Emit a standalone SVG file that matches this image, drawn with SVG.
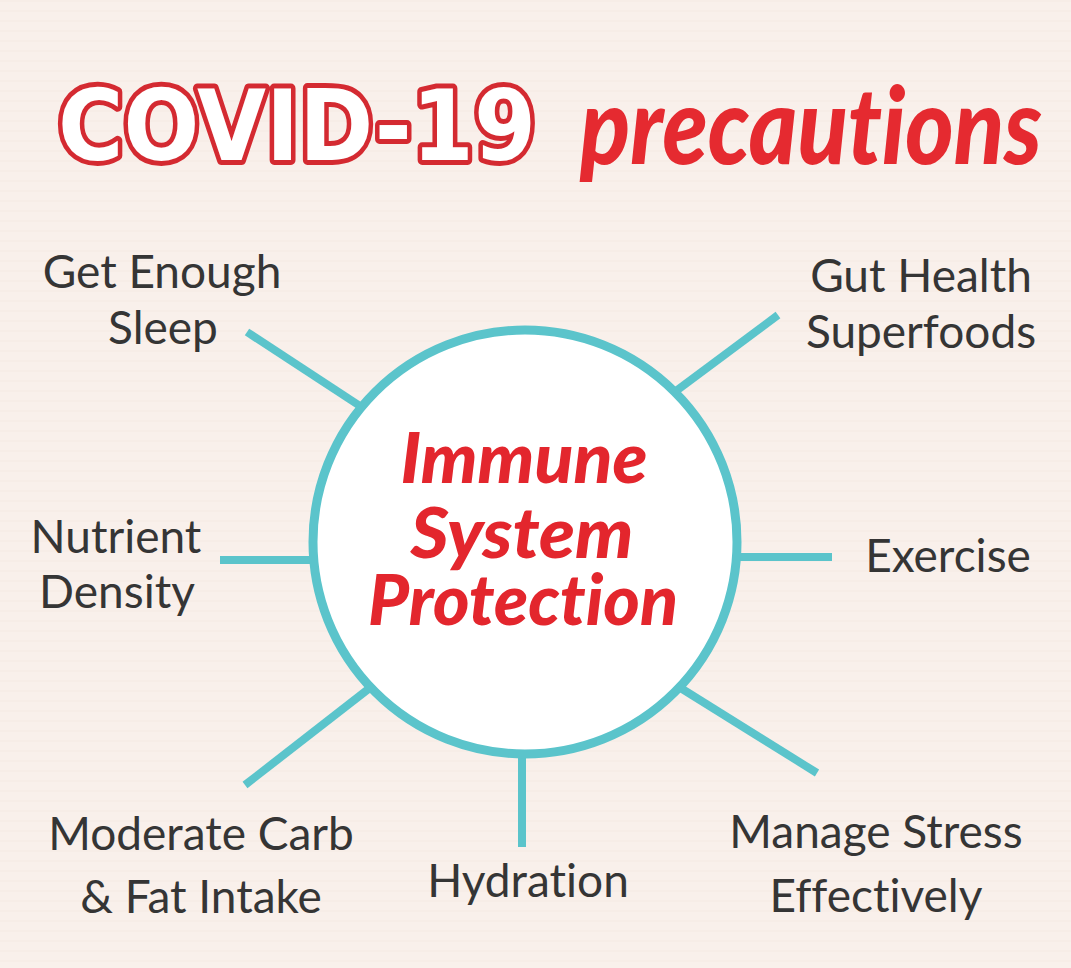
<svg xmlns="http://www.w3.org/2000/svg" width="1071" height="968" viewBox="0 0 1071 968">
<defs>
<pattern id="stripes" width="10" height="10" patternUnits="userSpaceOnUse">
<rect width="10" height="10" fill="#f9f0eb"/>
<rect y="0" width="10" height="2" fill="#f7ede7"/>
</pattern>
</defs>
<style>
text{font-variant-ligatures:none}
.lbl{font-family:Lato,"Liberation Sans",sans-serif;font-size:46px;fill:#353535;text-anchor:middle}
.hub{font-family:Lato,"Liberation Sans",sans-serif;font-size:70px;font-weight:900;font-style:italic;fill:#e3262d;text-anchor:middle}
.spoke{stroke:#5bc4cb;stroke-width:8;fill:none}
</style>
<rect width="1071" height="968" fill="url(#stripes)"/>
<g id="title">
<text x="58" y="160" textLength="478" lengthAdjust="spacingAndGlyphs" font-family="'DejaVu Sans',sans-serif" font-weight="bold" font-size="98" fill="#ffffff" stroke="#d42a31" stroke-width="10" stroke-linejoin="round" paint-order="stroke fill">COVID-19</text>
<text x="1042" y="164" text-anchor="end" textLength="462" lengthAdjust="spacingAndGlyphs" font-family="Lato,'Liberation Sans',sans-serif" font-weight="900" font-style="italic" font-size="106" fill="#e52a30">precautions</text>
</g>
<g id="connectors">
<line class="spoke" x1="247" y1="332" x2="360" y2="406"/>
<line class="spoke" x1="778" y1="315" x2="676" y2="391"/>
<line class="spoke" x1="220" y1="560" x2="316" y2="560"/>
<line class="spoke" x1="832" y1="557" x2="734" y2="557"/>
<line class="spoke" x1="245" y1="785" x2="371" y2="687"/>
<line class="spoke" x1="522" y1="847" x2="522" y2="750"/>
<line class="spoke" x1="817" y1="773" x2="679" y2="687"/>
</g>
<g id="hub">
<circle cx="525" cy="542" r="212" fill="#ffffff" stroke="#5bc4cb" stroke-width="9"/>
<text class="hub"><tspan x="524" y="483" textLength="247" lengthAdjust="spacingAndGlyphs">Immune</tspan><tspan x="522" y="558" textLength="223" lengthAdjust="spacingAndGlyphs">System</tspan><tspan x="523" y="625" textLength="310" lengthAdjust="spacingAndGlyphs">Protection</tspan></text>
</g>
<g id="node-sleep">
<text class="lbl" x="162" y="288">Get Enough</text>
<text class="lbl" x="163" y="344">Sleep</text>
</g>
<g id="node-gut">
<text class="lbl" x="921" y="292">Gut Health</text>
<text class="lbl" x="921" y="348">Superfoods</text>
</g>
<g id="node-nutrient">
<text class="lbl" x="116" y="553">Nutrient</text>
<text class="lbl" x="117" y="608">Density</text>
</g>
<g id="node-exercise">
<text class="lbl" x="948" y="572">Exercise</text>
</g>
<g id="node-carb">
<text class="lbl" x="201" y="850">Moderate Carb</text>
<text class="lbl" x="201" y="913">&amp; Fat Intake</text>
</g>
<g id="node-hydration">
<text class="lbl" x="528" y="897">Hydration</text>
</g>
<g id="node-stress">
<text class="lbl" x="876" y="848">Manage Stress</text>
<text class="lbl" x="876" y="912">Effectively</text>
</g>
</svg>
